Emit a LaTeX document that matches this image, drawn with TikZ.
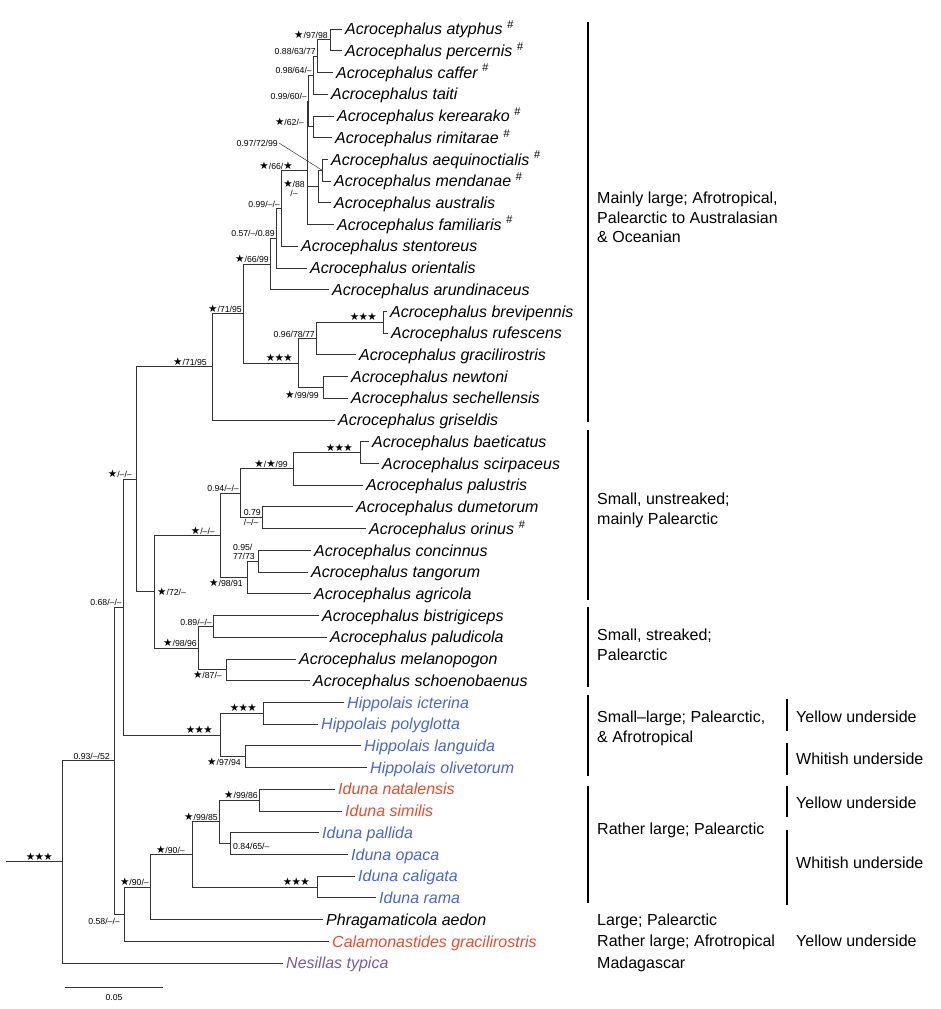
\documentclass[tikz,border=0pt]{standalone}
\usepackage{fontspec}
\setmainfont{Liberation Sans}
\newfontfamily\symf{DejaVu Sans}
\usetikzlibrary{calc,positioning}
\definecolor{hipblue}{RGB}{72,104,196}
\definecolor{idured}{RGB}{232,76,44}
\definecolor{nespurple}{RGB}{122,88,168}
\newcommand\hs{~\textsuperscript{\#}}
\newcommand\st{{\symf\fontsize{10.5}{10.5}\selectfont ★}}
\newcommand\sss{{\symf\fontsize{10.5}{10.5}\selectfont ★\kern-0.6pt★\kern-0.6pt★}}
\newcommand\clade[4]{%
  \path let \p1=(#3), \p2=(#4) in coordinate (#1) at (#2pt,{0.5*\y1+0.5*\y2});
  \draw[branch] (#1) |- (#3) (#1) |- (#4);}
\tikzset{
  branch/.style={draw=black!80, line width=0.75pt},
  taxon/.style={anchor=west, inner xsep=3pt, inner ysep=0pt, text height=11.5pt, text depth=0pt,
    font=\itshape\fontsize{16}{16}\selectfont},
  sup/.style={font=\fontsize{8.7}{9.5}\selectfont, inner sep=1pt, anchor=south east},
  supb/.style={sup, anchor=north east},
  supr/.style={sup, anchor=west},
  groupbar/.style={line width=2.6pt},
  note/.style={anchor=west, inner sep=0pt, text height=11.5pt, text depth=0pt,
    font=\fontsize{16}{19.5}\selectfont},
  notes/.style={anchor=north west, inner sep=0pt, align=left, font=\fontsize{16}{19.5}\selectfont}
}
\begin{document}
\begin{tikzpicture}[x=1pt,y=-1pt]
\useasboundingbox (0,0) rectangle (941,1009);
% taxa
\foreach \i/\xe/\nm/\cl in {
  1/342/Acrocephalus atyphus\hs/black, 2/342/Acrocephalus percernis\hs/black,
  3/333/Acrocephalus caffer\hs/black, 4/328/Acrocephalus taiti/black,
  5/334/Acrocephalus kerearako\hs/black, 6/332/Acrocephalus rimitarae\hs/black,
  7/328/Acrocephalus aequinoctialis\hs/black, 8/331/Acrocephalus mendanae\hs/black,
  9/331/Acrocephalus australis/black, 10/334/Acrocephalus familiaris\hs/black,
  11/298/Acrocephalus stentoreus/black, 12/307/Acrocephalus orientalis/black,
  13/329/Acrocephalus arundinaceus/black, 14/387/Acrocephalus brevipennis/black,
  15/388/Acrocephalus rufescens/black, 16/356/Acrocephalus gracilirostris/black,
  17/348/Acrocephalus newtoni/black, 18/348/Acrocephalus sechellensis/black,
  19/335/Acrocephalus griseldis/black, 20/369/Acrocephalus baeticatus/black,
  21/379/Acrocephalus scirpaceus/black, 22/363/Acrocephalus palustris/black,
  23/353/Acrocephalus dumetorum/black, 24/366/Acrocephalus orinus\hs/black,
  25/311/Acrocephalus concinnus/black, 26/308/Acrocephalus tangorum/black,
  27/311/Acrocephalus agricola/black, 28/319/Acrocephalus bistrigiceps/black,
  29/327/Acrocephalus paludicola/black, 30/296/Acrocephalus melanopogon/black,
  31/310/Acrocephalus schoenobaenus/black, 32/344/Hippolais icterina/hipblue,
  33/318/Hippolais polyglotta/hipblue, 34/361/Hippolais languida/hipblue,
  35/367/Hippolais olivetorum/hipblue, 36/335/Iduna natalensis/idured,
  37/342/Iduna similis/idured, 38/319/Iduna pallida/hipblue,
  39/348/Iduna opaca/hipblue, 40/355/Iduna caligata/hipblue,
  41/376/Iduna rama/hipblue, 42/323/Phragamaticola aedon/black,
  43/329/Calamonastides gracilirostris/idured, 44/283/Nesillas typica/nespurple}
  \node[taxon, text=\cl] (l\i) at (\xe,{29+(\i-1)*21.72}) {\nm};
% clades
\clade{na}{330}{l1.west}{l2.west}
\clade{nb}{317}{na}{l3.west}
\clade{nc}{313}{nb}{l4.west}
\clade{ne}{313}{l5.west}{l6.west}
\clade{nd}{308}{nc}{ne}
\clade{nm}{322}{l7.west}{l8.west}
\clade{nn}{318}{nm}{l9.west}
\path let \p1=(nd), \p2=(nn), \p3=(l10.west) in coordinate (nL) at (307pt,{(\y1+\y2+\y3)/3});
\draw[branch] (nL) |- (nd) (nL) |- (nn) (nL) |- (l10.west);
\clade{nk}{281}{nL}{l11.west}
\clade{nj}{276}{nk}{l12.west}
\clade{nh}{270}{nj}{l13.west}
\clade{nq}{383}{l14.west}{l15.west}
\clade{no}{316}{nq}{l16.west}
\clade{np}{323}{l17.west}{l18.west}
\clade{ni}{298}{no}{np}
\clade{ng}{243}{nh}{ni}
\clade{nE}{212}{ng}{l19.west}
\clade{nx}{360}{l20.west}{l21.west}
\clade{nv}{293}{nx}{l22.west}
\clade{nw}{262}{l23.west}{l24.west}
\clade{nt}{240}{nv}{nw}
\clade{ny}{258}{l25.west}{l26.west}
\clade{nu}{247}{ny}{l27.west}
\clade{nr}{220}{nt}{nu}
\clade{nz}{213}{l28.west}{l29.west}
\clade{naa}{226}{l30.west}{l31.west}
\clade{ns}{198}{nz}{naa}
\clade{nf}{154}{nr}{ns}
\clade{nD}{136}{nE}{nf}
\clade{nh1}{263}{l32.west}{l33.west}
\clade{nh2}{245}{l34.west}{l35.west}
\clade{nhip}{220}{nh1}{nh2}
\clade{nB}{123}{nD}{nhip}
\clade{naf}{259}{l36.west}{l37.west}
\clade{nag}{230}{l38.west}{l39.west}
\clade{nad}{219}{naf}{nag}
\clade{nae}{317}{l40.west}{l41.west}
\clade{nac}{192}{nad}{nae}
\clade{nab}{150}{nac}{l42.west}
\clade{nC}{124}{nab}{l43.west}
\clade{nA}{114}{nB}{nC}
\clade{nR}{62}{nA}{l44.west}
\coordinate (base) at ($(nR)+(-56,0)$);
\draw[branch] (base) -- (nR);
% support values
\node[sup, xshift=-1pt] (s-na) at (na) {\st/97/98};
\node[sup] (s-nb) at (nb) {0.88/63/77};
\node[sup] (s-nc) at (nc) {0.98/64/–};
\node[sup] (s-nd) at (nd) {0.99/60/–};
\node[sup, xshift=-8pt] (s-ne) at (ne) {\st/62/–};
\node[sup, anchor=east] (s-nm) at (279,143) {0.97/72/99};
\draw[branch, line width=0.5pt] (s-nm.east) -- (nm);
\node[sup, xshift=-13pt] (s-nL) at (nL) {\st/66/\st};
\node[sup, anchor=east, align=center, xshift=-12pt, yshift=-2pt] (s-nn) at (nn) {\st/88\\/–};
\node[sup] (s-nk) at (nk) {0.99/–/–};
\node[sup] (s-nj) at (nj) {0.57/–/0.89};
\node[sup] (s-nh) at (nh) {\st/66/99};
\node[sup] (s-ng) at (ng) {\st/71/95};
\node[sup, xshift=-5pt] (s-nq) at (nq) {\sss};
\node[sup] (s-no) at (no) {0.96/78/77};
\node[sup, xshift=-4pt] (s-ni) at (ni) {\sss};
\node[supb, xshift=-3pt, yshift=-2pt] (s-np) at (np) {\st/99/99};
\node[sup, xshift=-4pt] (s-nE) at (nE) {\st/71/95};
\node[sup, xshift=-3pt] (s-nD) at (nD) {\st/–/–};
\node[sup, xshift=-6pt] (s-nx) at (nx) {\sss};
\node[sup, xshift=-4pt] (s-nv) at (nv) {\st/\st/99};
\node[sup] (s-nt) at (nt) {0.94/–/–};
\node[sup, anchor=east, align=left] (s-nw) at (nw) {0.79\\/–/–};
\node[sup, xshift=-4pt] (s-nr) at (nr) {\st/–/–};
\node[sup, align=left, xshift=-2pt] (s-ny) at (ny) {0.95/\\77/73};
\node[supb, xshift=-3pt] (s-nu) at (nu) {\st/98/91};
\node[supr, xshift=2pt] (s-nf) at (nf) {\st/72/–};
\node[sup] (s-nz) at (nz) {0.89/–/–};
\node[sup] (s-ns) at (ns) {\st/98/96};
\node[supb, xshift=-3pt] (s-naa) at (naa) {\st/87/–};
\node[sup, xshift=-5pt] (s-nh1) at (nh1) {\sss};
\node[sup, xshift=-6pt] (s-nhip) at (nhip) {\sss};
\node[supb, xshift=-3pt] (s-nh2) at (nh2) {\st/97/94};
\node[sup] (s-nB) at (nB) {0.68/–/–};
\node[sup, xshift=-3pt] (s-nA) at (nA) {0.93/–/52};
\node[sup, xshift=-8pt] (s-nR) at (nR) {\sss};
\node[supb, xshift=-3pt, yshift=-3pt] (s-nC) at (nC) {0.58/–/–};
\node[sup] (s-nab) at (nab) {\st/90/–};
\node[sup, xshift=-6pt] (s-nac) at (nac) {\st/90/–};
\node[sup] (s-nad) at (nad) {\st/99/85};
\node[sup] (s-naf) at (naf) {\st/99/86};
\node[supr, xshift=2pt, yshift=-3pt] (s-nag) at (nag) {0.84/65/–};
\node[sup, xshift=-6pt] (s-nae) at (nae) {\sss};
% scale bar
\coordinate (sb1) at (65,987);
\coordinate (sb2) at (163,987);
\draw[branch] (sb1) -- (sb2);
\node[sup, anchor=north] (sblab) at ($(sb1)!.5!(sb2)+(0,6)$) {0.05};
% groups
\foreach \a/\b [count=\k] in {22/422, 430/600, 607/687, 695/776, 786/903}{
  \coordinate (g\k t) at (588,\a);
  \coordinate (g\k b) at (588,\b);
  \draw[groupbar] (g\k t) -- (g\k b);
}
\foreach \a/\b [count=\k] in {699/731, 743/775, 786/817, 830/905}{
  \coordinate (u\k t) at (787,\a);
  \coordinate (u\k b) at (787,\b);
  \draw[groupbar] (u\k t) -- (u\k b);
}
\node[notes] (g1) at (597,192) {Mainly large; Afrotropical,\\Palearctic to Australasian\\\& Oceanian};
\node[notes] (g2) at (597,493) {Small, unstreaked;\\mainly Palearctic};
\node[notes] (g3) at (597,629) {Small, streaked;\\Palearctic};
\node[notes] (g4) at (597,711) {Small–large; Palearctic,\\\& Afrotropical};
\node[note] (g5) at (597,829) {Rather large; Palearctic};
\node[note] (g6) at (597,919.5) {Large; Palearctic};
\node[note] (g7) at (597,941.2) {Rather large; Afrotropical};
\node[note] (g8) at (597,963) {Madagascar};
\node[note] (u1) at (796,717) {Yellow underside};
\node[note] (u2) at (796,759) {Whitish underside};
\node[note] (u3) at (796,803) {Yellow underside};
\node[note] (u4) at (796,863) {Whitish underside};
\node[note] (u5) at (796,941.2) {Yellow underside};
\end{tikzpicture}
\end{document}
